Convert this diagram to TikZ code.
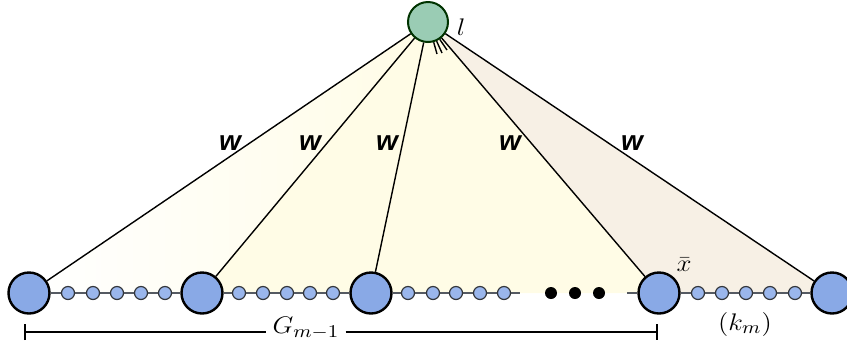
\documentclass[tikz,border=0pt]{standalone}
\usepackage{fontspec}
\usepackage{graphicx}
\usetikzlibrary{arrows.meta,backgrounds}
\newfontfamily\wfont{Liberation Sans}
\definecolor{vertblue}{HTML}{89A9E6}
\definecolor{pathblue}{HTML}{9AB6EC}
\definecolor{rootgreen}{HTML}{9ACCB4}
\definecolor{chaingray}{HTML}{555A62}
\definecolor{fanyellow}{HTML}{FFFCE6}
\definecolor{fanpink}{HTML}{F7F0E5}
\newcommand{\widelab}[1]{\scalebox{1.12}[1]{#1}}

\begin{document}
\begin{tikzpicture}[
  x=0.5pt, y=-0.5pt,
  bignode/.style={circle, draw=black, line width=1.2pt, fill=vertblue,
                  minimum size=20.5pt, inner sep=0pt},
  smallnode/.style={circle, draw=chaingray!60!black, line width=0.6pt, fill=pathblue,
                    minimum size=6.5pt, inner sep=0pt},
  rootnode/.style={circle, draw=black!80!green, line width=1pt, fill=rootgreen,
                   minimum size=20pt, inner sep=0pt},
  dotnode/.style={circle, fill=black, minimum size=6pt, inner sep=0pt},
  chain/.style={draw=chaingray, line width=0.6pt},
  edge/.style={draw=black, line width=0.7pt},
  bracket/.style={draw=black, line width=0.8pt},
  wlabel/.style={font=\wfont\bfseries\itshape\fontsize{14}{16}\selectfont, inner sep=0pt},
  mlabel/.style={font=\fontsize{13}{15}\selectfont, inner sep=1pt}
]
\useasboundingbox (0,0) rectangle (847,350);

% root and the long path
\node[rootnode] (l) at (428,22) {};
\node[mlabel] (llab) at (461,27) {\widelab{$l$}};

\node[bignode] (B1) at (29,293) {};
\node[bignode] (B2) at (202,293) {};
\node[bignode] (B3) at (371,293) {};
\node[bignode] (B4) at (659,293) {};
\node[bignode] (B5) at (832,293) {};

\foreach \g/\xs in {a/{68,93,117,141,165}, b/{239,263,287,310,333},
                    c/{408,433,456,480,504}, d/{698,722,746,770,795}}
  \foreach \x [count=\i] in \xs
    \node[smallnode] (\g\i) at (\x,293) {};

\coordinate (gapL) at (520,293);
\coordinate (gapR) at (627,293);
\node[dotnode] (d1) at (551,293) {};
\node[dotnode] (d2) at (575,293) {};
\node[dotnode] (d3) at (599,293) {};

\node[mlabel] (xbar) at (684,265) {\widelab{$\bar{x}$}};
\node[mlabel] (km) at (745,324) {\widelab{$(k_m)$}};

% shaded fan under the root
\begin{scope}[on background layer]
  \shade[left color=white, right color=fanyellow] (l.center) -- (B1.center) -- (B2.center) -- cycle;
  \fill[fanyellow] (l.center) -- (B2.center) -- (B4.center) -- cycle;
  \fill[fanpink] (l.center) -- (B4.center) -- (B5.center) -- cycle;
  \draw[chain] (B1) -- (B2) -- (B3) -- (gapL);
  \draw[chain] (gapR) -- (B4) -- (B5);
\end{scope}

% edges from the root
\foreach \j in {1,...,5}
  \draw[edge] (l) -- (B\j);
\coordinate (s1) at (437,54);
\coordinate (s2) at (442,53);
\coordinate (s3) at (447,50);
\foreach \j in {1,2,3}
  \draw[edge] (l) -- (s\j);

\node[wlabel] (w1) at (230,143) {w};
\node[wlabel] (w2) at (310,143) {w};
\node[wlabel] (w3) at (387,143) {w};
\node[wlabel] (w4) at (510,143) {w};
\node[wlabel] (w5) at (632,143) {w};

% span of G_{m-1}
\node[mlabel, inner sep=3pt] (gm) at (306,328) {\widelab{$G_{m-1}$}};
\coordinate (brL) at (24,332);
\coordinate (brR) at (658,332);
\draw[bracket, {Bar[width=8pt]}-] (brL) -- (gm.west |- brL);
\draw[bracket, -{Bar[width=8pt]}] (gm.east |- brR) -- (brR);
\end{tikzpicture}
\end{document}
